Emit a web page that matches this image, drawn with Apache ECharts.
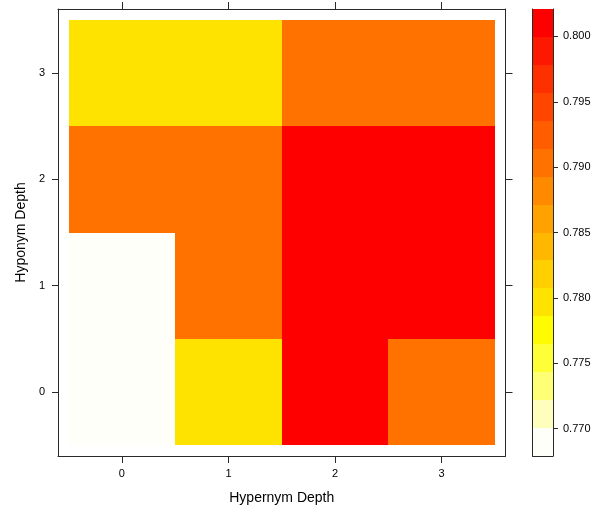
<!DOCTYPE html>
<html>
<head>
<meta charset="utf-8">
<script src="https://cdn.jsdelivr.net/npm/echarts@6/dist/echarts.min.js"></script>
<style>
  html, body { margin: 0; padding: 0; background: #ffffff; }
  #chart { width: 595px; height: 512px; }
</style>
</head>
<body>
<div id="chart"></div>
<script>
// Hypernym depth (x) by hyponym depth (y); one value per cell.
const hypernymDepth = [0, 1, 2, 3];
const hyponymDepth = [0, 1, 2, 3];
// rowN holds the values for hyponym depth N, ordered by hypernym depth
const row0 = [0.77, 0.78, 0.80, 0.79];
const row1 = [0.77, 0.79, 0.80, 0.80];
const row2 = [0.79, 0.79, 0.80, 0.80];
const row3 = [0.78, 0.78, 0.79, 0.79];
const rows = [row0, row1, row2, row3];
const colorbarTicks = [0.770, 0.775, 0.780, 0.785, 0.790, 0.795, 0.800];

// reversed heat palette, 16 levels
const palette = [
  '#FFFFFA', '#FFFFBD', '#FFFF75', '#FFFF38', '#FFFB00', '#FFE300', '#FFCF00', '#FFB700',
  '#FFA200', '#FF8A00', '#FF7200', '#FF5D00', '#FF4500', '#FF3000', '#FF1800', '#FF0000'
];

// level breaks: value range padded by 7% on each side, cut into 16 equal intervals
const allVals = rows.flat();
const vMin = Math.min(...allVals), vMax = Math.max(...allVals);
const pad = 0.07 * (vMax - vMin);
const lo = vMin - pad, hi = vMax + pad;
const nLevels = palette.length;
const breaks = [];
for (let i = 0; i <= nLevels; i++) breaks.push(lo + (hi - lo) * i / nLevels);

function levelOf(v) {
  const k = Math.floor((v - lo) / (hi - lo) * nLevels);
  return Math.max(0, Math.min(nLevels - 1, k));
}

const cellData = [];
hyponymDepth.forEach((y, r) => {
  hypernymDepth.forEach((x, c) => cellData.push([x, y, rows[r][c]]));
});
const barData = breaks.slice(0, -1).map((b, i) => [0.5, b, breaks[i + 1], i]);

const lineCol = '#2a2a2a';
const font = 'Liberation Sans, Arial, Helvetica, sans-serif';
const axisText = { color: '#000', fontSize: 11, fontFamily: font };

function frameAxis(extra) {
  return Object.assign({
    type: 'value',
    axisLine: { show: true, onZero: false, lineStyle: { color: lineCol, width: 1 } },
    axisTick: { show: false },
    axisLabel: { show: false },
    splitLine: { show: false }
  }, extra);
}

const tickVals = [0, 1, 2, 3];
const ticked = (len, withLabels, margin) => ({
  axisTick: { show: true, inside: false, length: len, customValues: tickVals, lineStyle: { color: lineCol } },
  axisLabel: Object.assign({ show: withLabels, margin: margin, customValues: tickVals }, axisText)
});

// pixel-snapped rectangle between two data corners
function snappedRect(a, b, col) {
  const x0 = Math.round(Math.min(a[0], b[0])), x1 = Math.round(Math.max(a[0], b[0]));
  const y0 = Math.round(Math.min(a[1], b[1])), y1 = Math.round(Math.max(a[1], b[1]));
  return {
    type: 'rect',
    shape: { x: x0, y: y0, width: x1 - x0, height: y1 - y0 },
    style: { fill: col }
  };
}

const chart = echarts.init(document.getElementById('chart'), null, { renderer: 'canvas' });
chart.setOption({
  animation: false,
  backgroundColor: '#ffffff',
  grid: [
    { left: 58, top: 9, width: 447.5, height: 447 },
    { left: 532.5, top: 9, width: 20.5, height: 447 }
  ],
  xAxis: [
    frameAxis(Object.assign({
      gridIndex: 0, position: 'bottom', min: -0.6, max: 3.6,
      name: 'Hypernym Depth', nameLocation: 'middle', nameGap: 35,
      nameTextStyle: { color: '#000', fontSize: 14, fontFamily: font }
    }, ticked(7, true, 12))),
    frameAxis(Object.assign({ gridIndex: 0, position: 'top', min: -0.6, max: 3.6 }, ticked(7, false, 8))),
    frameAxis({ gridIndex: 1, position: 'bottom', min: 0, max: 1 }),
    frameAxis({ gridIndex: 1, position: 'top', min: 0, max: 1 })
  ],
  yAxis: [
    frameAxis(Object.assign({
      gridIndex: 0, position: 'left', min: -0.6, max: 3.6,
      name: 'Hyponym Depth', nameLocation: 'middle', nameGap: 30, nameRotate: 90,
      nameTextStyle: { color: '#000', fontSize: 14, fontFamily: font }
    }, ticked(6, true, 13))),
    frameAxis(Object.assign({ gridIndex: 0, position: 'right', min: -0.6, max: 3.6 }, ticked(7, false, 8))),
    frameAxis({ gridIndex: 1, position: 'left', min: lo, max: hi }),
    frameAxis({
      gridIndex: 1, position: 'right', min: lo, max: hi,
      axisTick: { show: true, length: 5, customValues: colorbarTicks, lineStyle: { color: lineCol } },
      axisLabel: Object.assign({
        show: true, margin: 10, customValues: colorbarTicks,
        formatter: v => v.toFixed(3)
      }, axisText)
    })
  ],
  series: [
    {
      type: 'custom',
      xAxisIndex: 0, yAxisIndex: 0,
      data: cellData,
      encode: { x: 0, y: 1 },
      renderItem: function (params, api) {
        const x = api.value(0), y = api.value(1), v = api.value(2);
        return snappedRect(api.coord([x - 0.5, y + 0.5]), api.coord([x + 0.5, y - 0.5]),
          palette[levelOf(v)]);
      }
    },
    {
      type: 'custom',
      xAxisIndex: 2, yAxisIndex: 3,
      data: barData,
      encode: { x: 0, y: [1, 2] },
      renderItem: function (params, api) {
        return snappedRect(api.coord([0, api.value(2)]), api.coord([1, api.value(1)]),
          palette[api.value(3)]);
      }
    }
  ]
});
</script>
</body>
</html>
